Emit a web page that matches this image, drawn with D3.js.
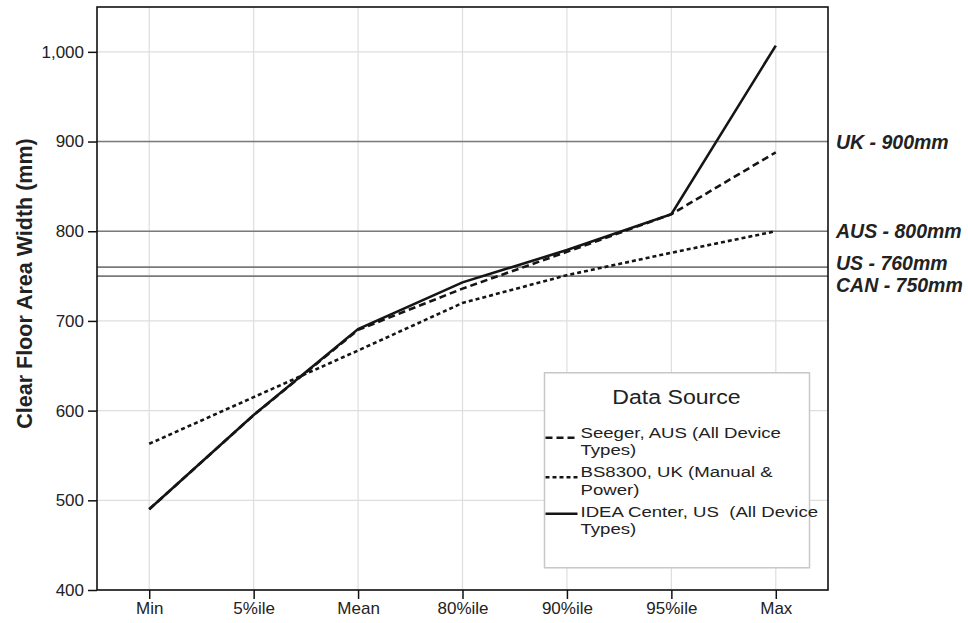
<!DOCTYPE html>
<html>
<head>
<meta charset="utf-8">
<script src="https://cdn.jsdelivr.net/npm/d3@7"></script>
<style>
    body { margin: 0; background: #fff; }
    svg { font-family: "Liberation Sans", Arial, sans-serif; }
    .grid line { stroke: #dedede; stroke-width: 1.2; }
    .axis path, .axis line { stroke: #111; stroke-width: 1.5; }
    .axis text { font-size: 17px; fill: #222; }
</style>
</head>
<body>
<div id="chart"></div>
<script>

// categories along the x axis
var categories = ["Min", "5%ile", "Mean", "80%ile", "90%ile", "95%ile", "Max"];

// series values (mm)
var seegerValues = [490, 595, 690, 736, 777, 819, 888];
var bs8300Values = [563, 615, 667, 720, 751, 776, 800];
var ideaValues   = [490, 595, 691, 743, 779, 819, 1007];

var seriesNames = ["Seeger, AUS (All Device Types)", "BS8300, UK (Manual & Power)", "IDEA Center, US  (All Device Types)"];
var legendLines = [["Seeger, AUS (All Device", "Types)"], ["BS8300, UK (Manual &", "Power)"], ["IDEA Center, US  (All Device", "Types)"]];

// standard minimum widths
var refValues = [900, 800, 760, 750];
var refLabels = ["UK - 900mm", "AUS - 800mm", "US - 760mm", "CAN - 750mm"];

var yTicks = [400, 500, 600, 700, 800, 900, 1000];

var margin = { top: 7, right: 140, bottom: 33, left: 97 };
var width = 968 - margin.left - margin.right;
var height = 623 - margin.top - margin.bottom;

var svg = d3.select("#chart").append("svg")
    .attr("width", 968)
    .attr("height", 623)
    .append("g")
    .attr("transform", "translate(" + margin.left + "," + margin.top + ")");

var x = d3.scalePoint()
    .domain(categories)
    .range([0, width])
    .padding(0.5);

var y = d3.scaleLinear()
    .domain([400, 1050])
    .range([height, 0]);

// grid lines
var grid = svg.append("g").attr("class", "grid");
grid.selectAll(".gx")
    .data(categories)
    .enter().append("line")
    .attr("x1", function(d) { return x(d); })
    .attr("x2", function(d) { return x(d); })
    .attr("y1", 0)
    .attr("y2", height);
grid.selectAll(".gy")
    .data(yTicks)
    .enter().append("line")
    .attr("x1", 0)
    .attr("x2", width)
    .attr("y1", function(d) { return y(d); })
    .attr("y2", function(d) { return y(d); });

// reference lines
svg.selectAll(".ref")
    .data(refValues)
    .enter().append("line")
    .attr("class", "ref")
    .attr("x1", 0)
    .attr("x2", width)
    .attr("y1", function(d) { return y(d); })
    .attr("y2", function(d) { return y(d); })
    .attr("stroke", "#7a7a7a")
    .attr("stroke-width", 1.6);

// labels to the right, nudged apart where lines are close
var nudge = { "US - 760mm": -4, "CAN - 750mm": 9 };
svg.selectAll(".reflabel")
    .data(refValues)
    .enter().append("text")
    .attr("class", "reflabel")
    .attr("x", width + 8)
    .attr("y", function(d, i) { return y(d) + 7 + (nudge[refLabels[i]] || 0); })
    .attr("font-size", "19.5px")
    .attr("font-weight", "bold")
    .attr("font-style", "italic")
    .attr("fill", "#222")
    .text(function(d, i) { return refLabels[i]; });

// data lines
var line = d3.line()
    .x(function(d, i) { return x(categories[i]); })
    .y(function(d) { return y(d); });

var series = [bs8300Values, seegerValues, ideaValues];
var dashes = ["4,3", "7,4", null];

svg.selectAll(".series")
    .data(series)
    .enter().append("path")
    .attr("class", "series")
    .attr("d", function(d) { return line(d); })
    .attr("fill", "none")
    .attr("stroke", "#151515")
    .attr("stroke-width", 2.6)
    .attr("stroke-dasharray", function(d, i) { return dashes[i]; });

// axes
var yAxis = d3.axisLeft(y)
    .tickValues(yTicks)
    .tickSize(9)
    .tickPadding(4)
    .tickFormat(d3.format(","));
var xAxis = d3.axisBottom(x)
    .tickSize(9)
    .tickPadding(3);

svg.append("g")
    .attr("class", "axis y-axis")
    .call(yAxis)
    .select(".domain").remove();

svg.append("g")
    .attr("class", "axis x-axis")
    .attr("transform", "translate(0," + height + ")")
    .call(xAxis)
    .select(".domain").remove();

// plot frame
svg.append("rect")
    .attr("width", width)
    .attr("height", height)
    .attr("fill", "none")
    .attr("stroke", "#111")
    .attr("stroke-width", 1.6);

svg.append("text")
    .attr("transform", "translate(" + (-margin.left + 32) + "," + (height / 2 - 15) + ") rotate(-90)")
    .attr("text-anchor", "middle")
    .attr("font-size", "21.5px")
    .attr("font-weight", "bold")
    .attr("fill", "#222")
    .text("Clear Floor Area Width (mm)");

// legend
var legend = svg.append("g")
    .attr("transform", "translate(" + (x("80%ile") + 82) + "," + (y(650) + 7) + ")");

legend.append("rect")
    .attr("width", 265)
    .attr("height", 195)
    .attr("fill", "#fff")
    .attr("stroke", "#c8c8c8")
    .attr("stroke-width", 1.5);

legend.append("text")
    .attr("transform", "translate(132,31) scale(1.1,1)")
    .attr("text-anchor", "middle")
    .attr("font-size", "21px")
    .attr("fill", "#222")
    .text("Data Source");

var legendDash = ["7,4", "4,3", null];
var entries = legend.selectAll(".entry")
    .data(seriesNames)
    .enter().append("g")
    .attr("class", "entry")
    .attr("transform", function(d, i) { return "translate(0," + (65 + i * 39.5) + ")"; });

entries.append("line")
    .attr("x1", 1)
    .attr("x2", 33)
    .attr("y1", function(d, i) { return i === 2 ? -3 : 0; })
    .attr("y2", function(d, i) { return i === 2 ? -3 : 0; })
    .attr("stroke", "#151515")
    .attr("stroke-width", 2.6)
    .attr("stroke-dasharray", function(d, i) { return legendDash[i]; });

entries.append("text")
    .attr("transform", "translate(36,0) scale(1.2,1)")
    .attr("font-size", "15.5px")
    .attr("fill", "#222")
    .style("white-space", "pre")
    .selectAll("tspan")
    .data(function(d, i) { return legendLines[i]; })
    .enter().append("tspan")
    .attr("x", 0)
    .attr("y", function(d, j) { return j * 17.5; })
    .text(function(d) { return d; });

</script>
</body>
</html>
